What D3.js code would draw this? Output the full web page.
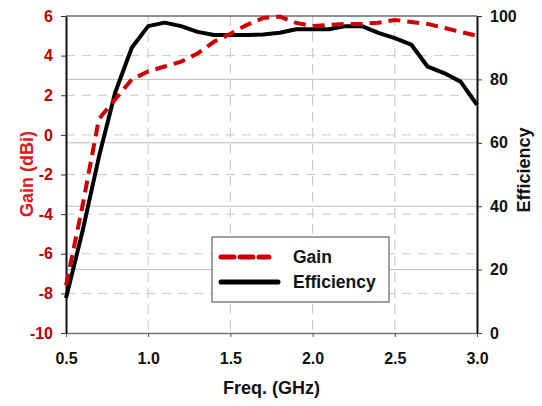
<!DOCTYPE html>
<html>
<head>
<meta charset="utf-8">
<script src="https://cdn.jsdelivr.net/npm/d3@7"></script>
<style>
  body { margin: 0; background: #fff; }
  text { font-family: "Liberation Sans", Arial, sans-serif; font-weight: bold; }
</style>
</head>
<body>
<div id="chart"></div>
<script>
// Frequency samples (GHz)
const freq = [0.5, 0.6, 0.7, 0.8, 0.9, 1.0, 1.1, 1.2, 1.3, 1.4, 1.5, 1.6, 1.7,
  1.8, 1.9, 2.0, 2.1, 2.2, 2.3, 2.4, 2.5, 2.6, 2.7, 2.8, 2.9, 3.0];

// Gain (dBi)
const gain = [-7.6, -3.6, 0.8, 1.8, 2.8, 3.2, 3.45, 3.7, 4.1, 4.7, 5.1, 5.55, 5.9,
  5.97, 5.65, 5.5, 5.55, 5.6, 5.6, 5.66, 5.8, 5.7, 5.6, 5.4, 5.2, 5.0];

// Efficiency (%)
const efficiency = [11, 32, 55.5, 76, 90, 96.8, 97.9, 96.8, 95, 94, 94, 94, 94.2,
  94.7, 95.8, 95.8, 95.8, 96.8, 96.8, 94.7, 93, 91, 84, 82, 79.3, 72];

const xTicks = [0.5, 1.0, 1.5, 2.0, 2.5, 3.0];
const gainTicks = [-10, -8, -6, -4, -2, 0, 2, 4, 6];
const effTicks = [0, 20, 40, 60, 80, 100];

// Setup
const width = 542;
const height = 406;
const margin = { top: 16, right: 65, bottom: 73, left: 66 };

const svg = d3.select("#chart")
  .append("svg")
  .attr("width", width)
  .attr("height", height);

const x = d3.scaleLinear().domain([0.5, 3.0]).range([margin.left, width - margin.right]);
const yGain = d3.scaleLinear().domain([-10, 6]).range([height - margin.bottom, margin.top]);
const yEff = d3.scaleLinear().domain([0, 100]).range([height - margin.bottom, margin.top]);

const plotLeft = margin.left;
const plotRight = width - margin.right;
const plotTop = margin.top;
const plotBottom = height - margin.bottom;

// Grid lines
const grid = svg.append("g");

grid.selectAll(".geff")
  .data(effTicks.slice(1, -1))
  .join("line")
  .attr("x1", plotLeft).attr("x2", plotRight)
  .attr("y1", d => yEff(d)).attr("y2", d => yEff(d))
  .attr("stroke", "#bdbdbd").attr("stroke-width", 1);

grid.selectAll(".ggain")
  .data(gainTicks.slice(1, -1))
  .join("line")
  .attr("x1", plotLeft).attr("x2", plotRight)
  .attr("y1", d => yGain(d)).attr("y2", d => yGain(d))
  .attr("stroke", "#c8c8c8").attr("stroke-width", 1)
  .attr("stroke-dasharray", "9,7");

grid.selectAll(".gx")
  .data(xTicks.slice(1, -1))
  .join("line")
  .attr("x1", d => x(d)).attr("x2", d => x(d))
  .attr("y1", plotTop).attr("y2", plotBottom)
  .attr("stroke", "#cfcfcf").attr("stroke-width", 1.2)
  .attr("stroke-dasharray", "10,6");

// Top border
svg.append("line")
  .attr("x1", plotLeft).attr("x2", plotRight)
  .attr("y1", plotTop).attr("y2", plotTop)
  .attr("stroke", "#222").attr("stroke-width", 1);

// Axes
const xAxis = svg.append("g")
  .attr("transform", `translate(0,${plotBottom})`)
  .call(d3.axisBottom(x).tickValues(xTicks).tickFormat(d3.format(".1f")).tickSize(4).tickSizeOuter(0));
xAxis.select(".domain").attr("stroke", "#777").attr("stroke-width", 1.5);
xAxis.selectAll(".tick line").attr("stroke", "#555");
xAxis.selectAll("text").attr("font-size", 16).attr("fill", "#111").attr("y", 20).attr("dy", "0.71em");

const leftAxis = svg.append("g")
  .attr("transform", `translate(${plotLeft},0)`)
  .call(d3.axisLeft(yGain).tickValues(gainTicks).tickFormat(d => String(d)).tickSize(5).tickSizeOuter(0));
leftAxis.select(".domain").attr("stroke", "#111").attr("stroke-width", 2);
leftAxis.selectAll(".tick line").attr("stroke", "#333");
leftAxis.selectAll("text").attr("font-size", 16).attr("fill", "#c00000").attr("x", -13);

const rightAxis = svg.append("g")
  .attr("transform", `translate(${plotRight},0)`)
  .call(d3.axisRight(yEff).tickValues(effTicks).tickFormat(d => String(d)).tickSize(5).tickSizeOuter(0));
rightAxis.select(".domain").attr("stroke", "#111").attr("stroke-width", 2);
rightAxis.selectAll(".tick line").attr("stroke", "#333");
rightAxis.selectAll("text").attr("font-size", 16).attr("fill", "#111").attr("x", 13);

// Curves
const gainLine = d3.line().x((d, i) => x(freq[i])).y(d => yGain(d));
const effLine = d3.line().x((d, i) => x(freq[i])).y(d => yEff(d));

svg.append("path")
  .datum(efficiency)
  .attr("d", effLine)
  .attr("fill", "none")
  .attr("stroke", "#000")
  .attr("stroke-width", 4)
  .attr("stroke-linejoin", "round");

svg.append("path")
  .datum(gain)
  .attr("d", gainLine)
  .attr("fill", "none")
  .attr("stroke", "#cc0000")
  .attr("stroke-width", 4)
  .attr("stroke-dasharray", "12,7");

// Axis titles
svg.append("text")
  .attr("x", (plotLeft + plotRight) / 2)
  .attr("y", 394)
  .attr("text-anchor", "middle")
  .attr("font-size", 18)
  .attr("fill", "#111")
  .text("Freq. (GHz)");

svg.append("text")
  .attr("transform", "translate(33,174) rotate(-90)")
  .attr("text-anchor", "middle")
  .attr("font-size", 18)
  .attr("fill", "#e8141c")
  .text("Gain (dBi)");

svg.append("text")
  .attr("transform", "translate(530,170) rotate(-90)")
  .attr("text-anchor", "middle")
  .attr("font-size", 18)
  .attr("fill", "#111")
  .text("Efficiency");

// Legend
const legend = svg.append("g").attr("transform", "translate(212,237)");
legend.append("rect")
  .attr("width", 177).attr("height", 65)
  .attr("fill", "#fff").attr("stroke", "#444").attr("stroke-width", 1);

const legendItems = [
  { label: "Gain", color: "#cc0000", dash: "13,6", x2: 57 },
  { label: "Efficiency", color: "#000", dash: null, x2: 66 }
];

legendItems.forEach((item, i) => {
  const ly = 20 + i * 25;
  legend.append("line")
    .attr("x1", 9).attr("x2", item.x2)
    .attr("y1", ly).attr("y2", ly)
    .attr("stroke", item.color).attr("stroke-width", 5)
    .attr("stroke-linecap", "round")
    .attr("stroke-dasharray", item.dash);
  legend.append("text")
    .attr("x", 81).attr("y", ly + 6)
    .attr("font-size", 17.5).attr("fill", "#111")
    .text(item.label);
});
</script>
</body>
</html>
